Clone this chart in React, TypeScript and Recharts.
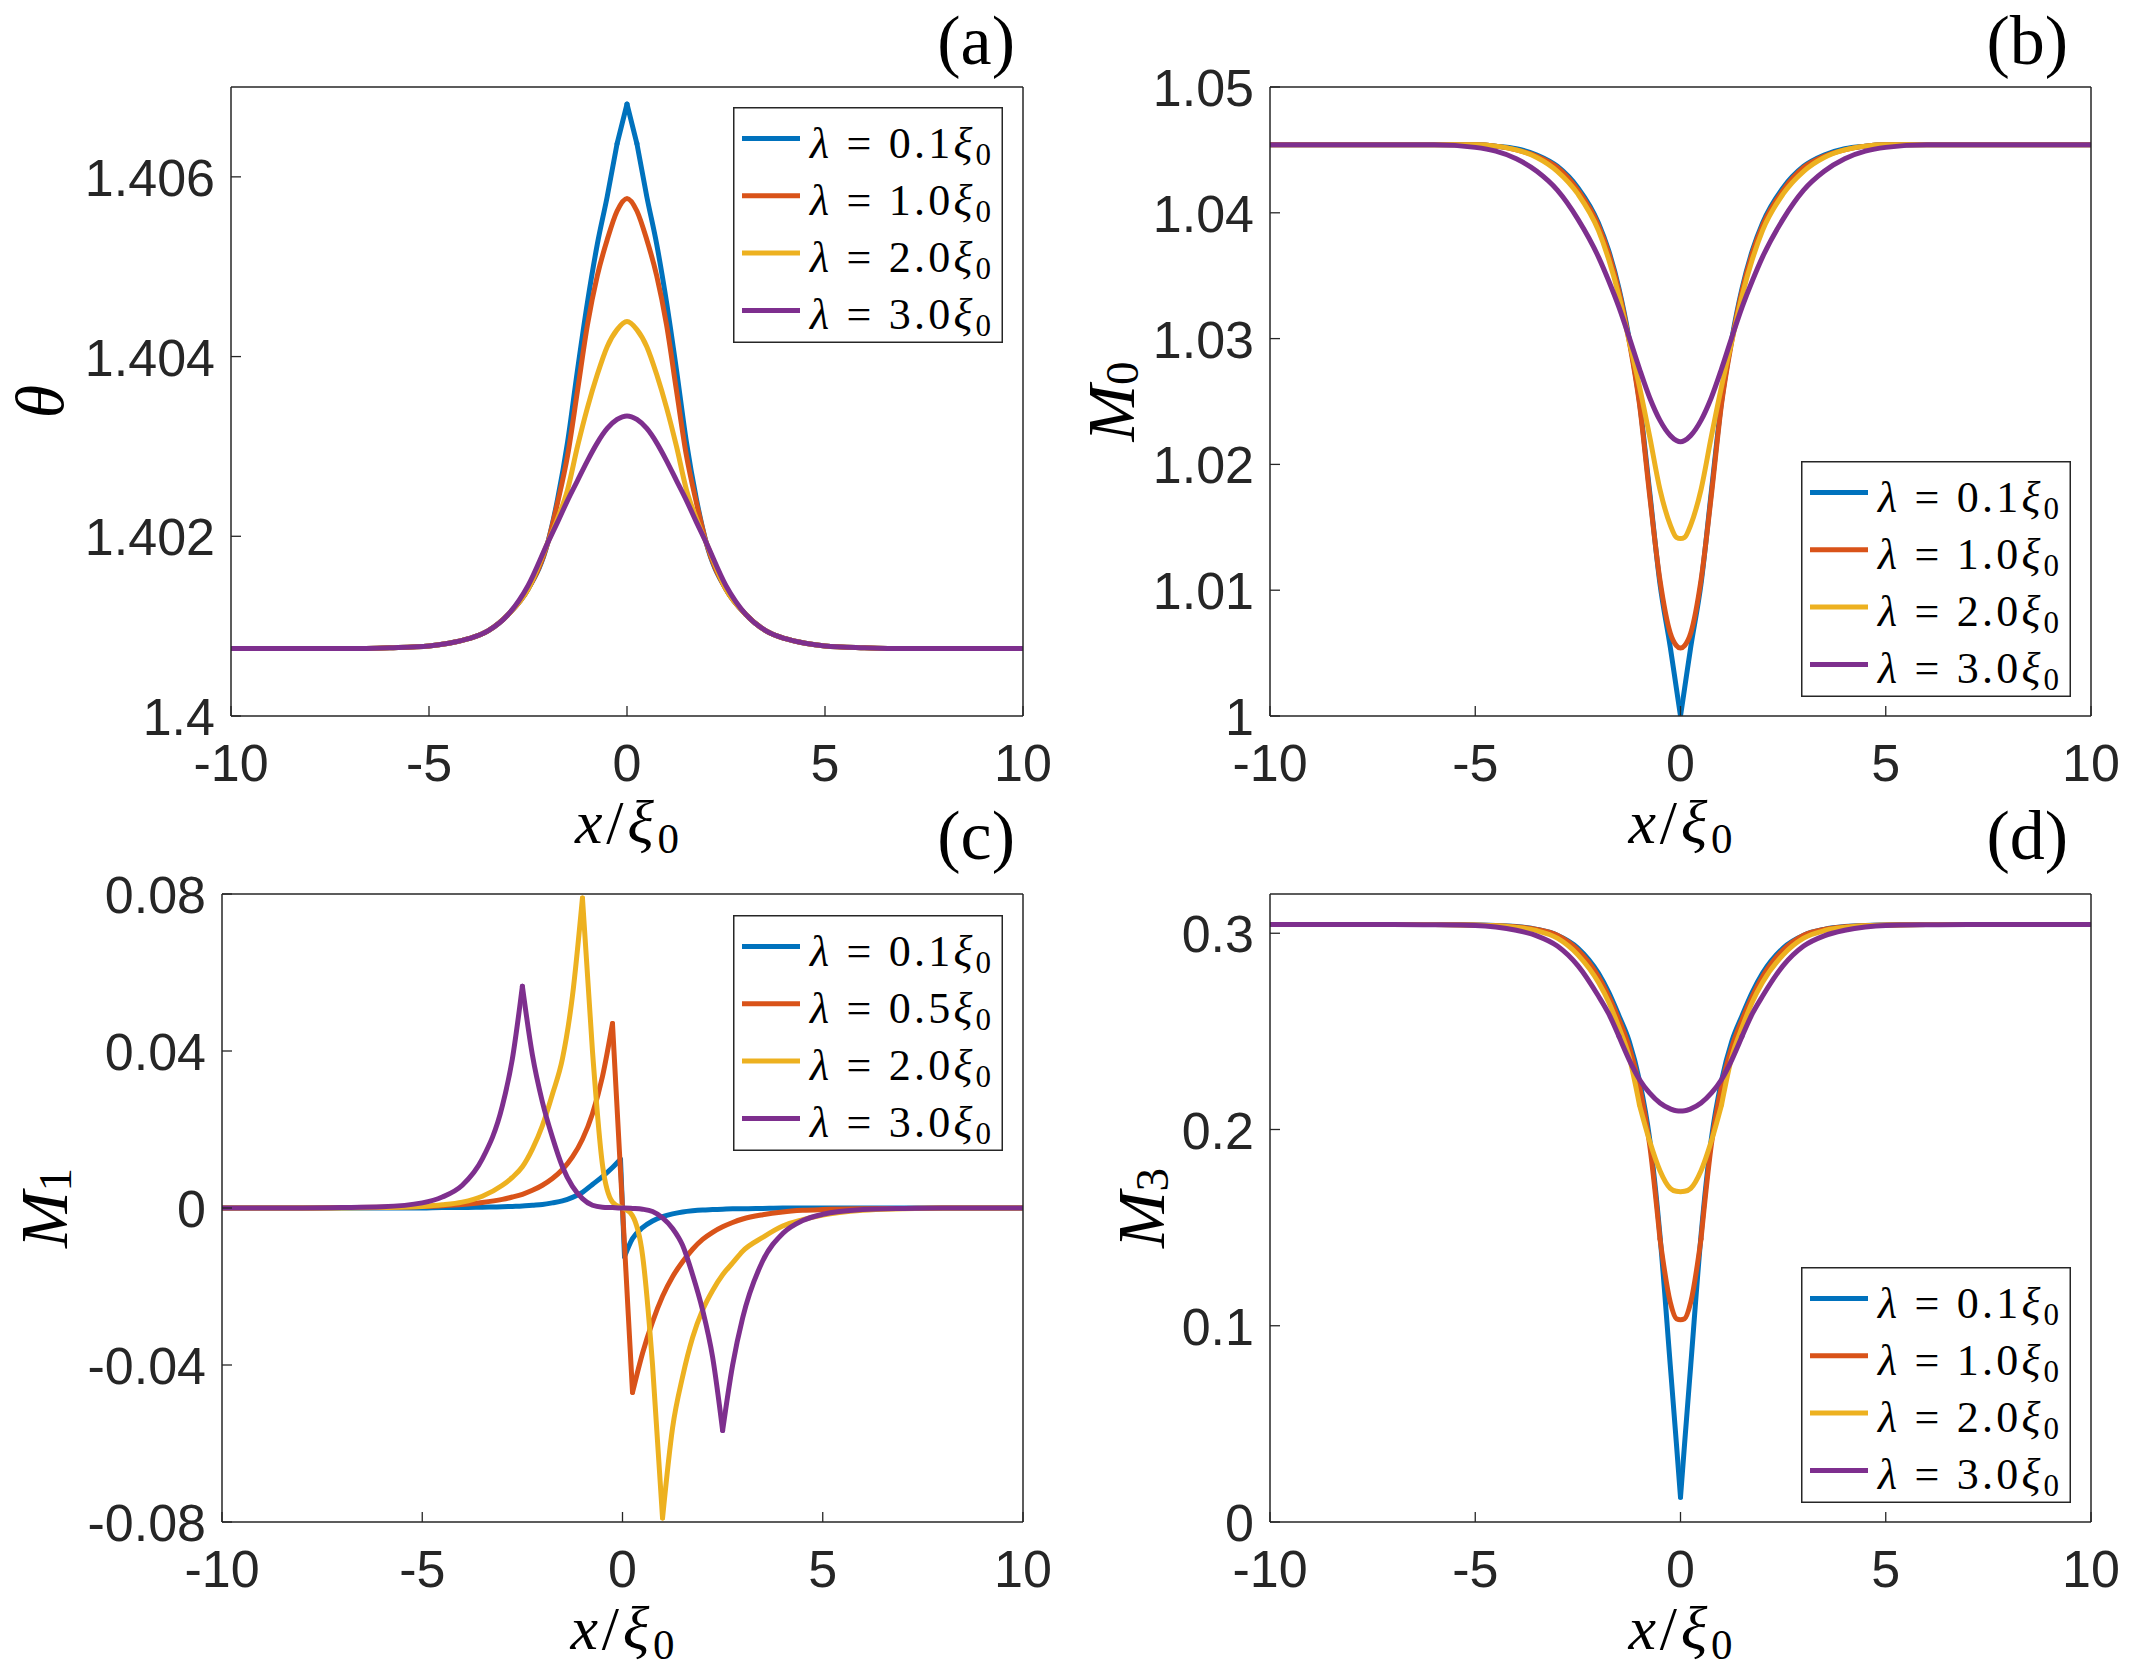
import React from 'react';
import { LineChart, Line, XAxis, YAxis, Label } from 'recharts';

// MATLAB default line colours
const COLORS = ['#0072BD', '#D95319', '#EDB120', '#7E2F8E'];
const SANS = '"Liberation Sans", Arial, Helvetica, sans-serif';
const SERIF = '"Liberation Serif", "Times New Roman", serif';
const INK = '#262626';

// shared x axis
const xTicks = [-10, -5, 0, 5, 10];
const xTickLabels = ['-10', '-5', '0', '5', '10'];

// legend lambda values (in units of xi_0)
const lambdasABD = ['0.1', '1.0', '2.0', '3.0'];
const lambdasC = ['0.1', '0.5', '2.0', '3.0'];

// ---------- (a) theta ----------
const xA = [-10, -8, -7, -6, -5, -4.5, -4, -3.5, -3, -2.5, -2, -1.75, -1.5, -1.25, -1, -0.75, -0.5, -0.25, 0, 0.25, 0.5, 0.75, 1, 1.25, 1.5, 1.75, 2, 2.5, 3, 3.5, 4, 4.5, 5, 6, 7, 8, 10];
const thetaL01 = [1.40075, 1.40075, 1.40075, 1.40076, 1.40078, 1.40081, 1.40086, 1.40095, 1.40113, 1.40141, 1.40193, 1.40242, 1.40305, 1.40385, 1.4046, 1.40525, 1.40578, 1.40637, 1.40681, 1.40637, 1.40578, 1.40525, 1.4046, 1.40385, 1.40305, 1.40242, 1.40193, 1.40141, 1.40113, 1.40095, 1.40086, 1.40081, 1.40078, 1.40076, 1.40075, 1.40075, 1.40075];
const thetaL10 = [1.40075, 1.40075, 1.40075, 1.40076, 1.40078, 1.40081, 1.40086, 1.40095, 1.40113, 1.40141, 1.40193, 1.40238, 1.4029, 1.40362, 1.40435, 1.4049, 1.4053, 1.40562, 1.40576, 1.40562, 1.4053, 1.4049, 1.40435, 1.40362, 1.4029, 1.40238, 1.40193, 1.40141, 1.40113, 1.40095, 1.40086, 1.40081, 1.40078, 1.40076, 1.40075, 1.40075, 1.40075];
const thetaL20 = [1.40075, 1.40075, 1.40075, 1.40076, 1.40078, 1.40081, 1.40086, 1.40095, 1.40113, 1.40141, 1.40193, 1.4022, 1.40252, 1.403, 1.40343, 1.4038, 1.40411, 1.4043, 1.40439, 1.4043, 1.40411, 1.4038, 1.40343, 1.403, 1.40252, 1.4022, 1.40193, 1.40141, 1.40113, 1.40095, 1.40086, 1.40081, 1.40078, 1.40076, 1.40075, 1.40075, 1.40075];
const thetaL30 = [1.40075, 1.40075, 1.40075, 1.40076, 1.40078, 1.40081, 1.40086, 1.40095, 1.40113, 1.40145, 1.40193, 1.40216, 1.4024, 1.40262, 1.40284, 1.40304, 1.4032, 1.4033, 1.40334, 1.4033, 1.4032, 1.40304, 1.40284, 1.40262, 1.4024, 1.40216, 1.40193, 1.40145, 1.40113, 1.40095, 1.40086, 1.40081, 1.40078, 1.40076, 1.40075, 1.40075, 1.40075];
const thetaTicks = [1.4, 1.402, 1.404, 1.406];
const thetaTickLabels = ['1.4', '1.402', '1.404', '1.406'];
// x positions where a curve has a corner (the curve is drawn smooth between them)
const cornersA = [[-0.25, 0, 0.25], [], [], []];

// ---------- (b) M0 and (d) M3 share the x grid ----------
const xBD = [-10, -8, -7, -6, -5, -4.5, -4, -3.5, -3, -2.5, -2, -1.75, -1.5, -1.25, -1, -0.75, -0.5, -0.25, -0.1, 0, 0.1, 0.25, 0.5, 0.75, 1, 1.25, 1.5, 1.75, 2, 2.5, 3, 3.5, 4, 4.5, 5, 6, 7, 8, 10];
const m0L01 = [1.0454, 1.0454, 1.0454, 1.0454, 1.0454, 1.0453, 1.0451, 1.0446, 1.0437, 1.042, 1.0392, 1.037, 1.034, 1.03, 1.025, 1.0178, 1.0105, 1.0055, 1.0022, 1.0, 1.0022, 1.0055, 1.0105, 1.0178, 1.025, 1.03, 1.034, 1.037, 1.0392, 1.042, 1.0437, 1.0446, 1.0451, 1.0453, 1.0454, 1.0454, 1.0454, 1.0454, 1.0454];
const m0L10 = [1.0454, 1.0454, 1.0454, 1.0454, 1.0454, 1.0453, 1.045, 1.0445, 1.0436, 1.0418, 1.039, 1.0368, 1.0338, 1.0298, 1.0248, 1.0175, 1.0108, 1.0066, 1.0056, 1.0054, 1.0056, 1.0066, 1.0108, 1.0175, 1.0248, 1.0298, 1.0338, 1.0368, 1.039, 1.0418, 1.0436, 1.0445, 1.045, 1.0453, 1.0454, 1.0454, 1.0454, 1.0454, 1.0454];
const m0L20 = [1.0454, 1.0454, 1.0454, 1.0454, 1.0454, 1.0453, 1.045, 1.0444, 1.0433, 1.0415, 1.0386, 1.0363, 1.0334, 1.0298, 1.0262, 1.0222, 1.018, 1.0152, 1.0142, 1.0141, 1.0142, 1.0152, 1.018, 1.0222, 1.0262, 1.0298, 1.0334, 1.0363, 1.0386, 1.0415, 1.0433, 1.0444, 1.045, 1.0453, 1.0454, 1.0454, 1.0454, 1.0454, 1.0454];
const m0L30 = [1.0454, 1.0454, 1.0454, 1.0454, 1.0452, 1.0449, 1.0443, 1.0433, 1.0418, 1.0395, 1.0365, 1.0346, 1.0325, 1.0301, 1.0276, 1.0253, 1.0235, 1.0223, 1.0219, 1.0218, 1.0219, 1.0223, 1.0235, 1.0253, 1.0276, 1.0301, 1.0325, 1.0346, 1.0365, 1.0395, 1.0418, 1.0433, 1.0443, 1.0449, 1.0452, 1.0454, 1.0454, 1.0454, 1.0454];
const m0Ticks = [1, 1.01, 1.02, 1.03, 1.04, 1.05];
const m0TickLabels = ['1', '1.01', '1.02', '1.03', '1.04', '1.05'];
const cornersB = [[0], [], [], []];

const m3L01 = [0.3044, 0.3044, 0.3044, 0.3044, 0.3042, 0.304, 0.3034, 0.302, 0.299, 0.2925, 0.2797, 0.27, 0.258, 0.245, 0.225, 0.195, 0.146, 0.08, 0.04, 0.0126, 0.04, 0.08, 0.146, 0.195, 0.225, 0.245, 0.258, 0.27, 0.2797, 0.2925, 0.299, 0.302, 0.3034, 0.304, 0.3042, 0.3044, 0.3044, 0.3044, 0.3044];
const m3L10 = [0.3044, 0.3044, 0.3044, 0.3044, 0.3042, 0.3039, 0.3033, 0.302, 0.299, 0.2915, 0.278, 0.268, 0.256, 0.242, 0.222, 0.192, 0.1442, 0.112, 0.1036, 0.1031, 0.1036, 0.112, 0.1442, 0.192, 0.222, 0.242, 0.256, 0.268, 0.278, 0.2915, 0.299, 0.302, 0.3033, 0.3039, 0.3042, 0.3044, 0.3044, 0.3044, 0.3044];
const m3L20 = [0.3044, 0.3044, 0.3044, 0.3044, 0.3041, 0.3038, 0.303, 0.3013, 0.2975, 0.289, 0.275, 0.265, 0.252, 0.237, 0.2126, 0.194, 0.179, 0.17, 0.1685, 0.1683, 0.1685, 0.17, 0.179, 0.194, 0.2126, 0.237, 0.252, 0.265, 0.275, 0.289, 0.2975, 0.3013, 0.303, 0.3038, 0.3041, 0.3044, 0.3044, 0.3044, 0.3044];
const m3L30 = [0.3044, 0.3044, 0.3044, 0.3043, 0.304, 0.3032, 0.3015, 0.2987, 0.2935, 0.2835, 0.268, 0.259, 0.2475, 0.2355, 0.2255, 0.2185, 0.2135, 0.2105, 0.2095, 0.2094, 0.2095, 0.2105, 0.2135, 0.2185, 0.2255, 0.2355, 0.2475, 0.259, 0.268, 0.2835, 0.2935, 0.2987, 0.3015, 0.3032, 0.304, 0.3043, 0.3044, 0.3044, 0.3044];
const m3Ticks = [0, 0.1, 0.2, 0.3];
const m3TickLabels = ['0', '0.1', '0.2', '0.3'];
const cornersD = [[0], [-0.5, 0.5], [-1, 1], [-1.5, 1.5]];

// ---------- (c) M1 ----------
const xC = [-10, -8, -7, -6, -5, -4.5, -4, -3.5, -3, -2.75, -2.5, -2.25, -2, -1.75, -1.5, -1.25, -1, -0.75, -0.5, -0.25, -0.05, 0, 0.05, 0.25, 0.5, 0.75, 1, 1.25, 1.5, 1.75, 2, 2.25, 2.5, 2.75, 3, 3.5, 4, 4.5, 5, 6, 7, 8, 10];
const m1L01 = [0, 0, 0, 0, 0, 0.0001, 0.0001, 0.0002, 0.0003, 0.0004, 0.0005, 0.0007, 0.0009, 0.0013, 0.0018, 0.0027, 0.004, 0.006, 0.008, 0.0103, 0.0124, 0, -0.0124, -0.0078, -0.005, -0.0033, -0.0022, -0.0015, -0.001, -0.0007, -0.0005, -0.0004, -0.0003, -0.0002, -0.0002, -0.0001, 0, 0, 0, 0, 0, 0, 0];
const m1L05 = [0, 0, 0.0001, 0.0002, 0.0004, 0.0006, 0.0009, 0.0014, 0.0022, 0.0028, 0.0035, 0.0045, 0.0058, 0.0075, 0.0098, 0.013, 0.0175, 0.024, 0.0335, 0.047, 0.0094, 0, -0.0094, -0.047, -0.037, -0.029, -0.0225, -0.0175, -0.0137, -0.0105, -0.008, -0.0062, -0.0048, -0.0037, -0.0028, -0.0017, -0.001, -0.0006, -0.0004, -0.0002, -0.0001, 0, 0];
const m1L20 = [0, 0, 0, 0.0001, 0.0004, 0.0008, 0.0015, 0.003, 0.0058, 0.0078, 0.0105, 0.015, 0.021, 0.029, 0.038, 0.054, 0.079, 0.04, 0.011, 0.0015, 0.0002, 0, -0.0002, -0.002, -0.012, -0.04, -0.079, -0.056, -0.043, -0.033, -0.026, -0.021, -0.017, -0.014, -0.011, -0.0075, -0.0046, -0.003, -0.0018, -0.0006, -0.0002, 0, 0];
const m1L30 = [0, 0, 0.0001, 0.0003, 0.0013, 0.0028, 0.0058, 0.0125, 0.026, 0.038, 0.0565, 0.039, 0.027, 0.018, 0.0105, 0.0055, 0.0024, 0.0007, 0.0002, 0.0001, 0, 0, 0, -0.0001, -0.0003, -0.0009, -0.0025, -0.0052, -0.0095, -0.017, -0.026, -0.038, -0.0567, -0.04, -0.028, -0.0135, -0.0065, -0.0032, -0.0016, -0.0004, -0.0001, 0, 0];
const m1Ticks = [-0.08, -0.04, 0, 0.04, 0.08];
const m1TickLabels = ['-0.08', '-0.04', '0', '0.04', '0.08'];
const cornersC = [[-0.05, 0.05], [-0.25, 0.25], [-1, 1], [-2.5, 2.5]];

// Each series is split at its corners into pieces; every piece is drawn as a
// smooth monotone curve, so the corners stay sharp while the rest is smooth.
type Row = Record<string, number | null>;
type PanelData = { rows: Row[]; keys: { key: string; color: string }[] };

function buildPanel(xs: number[], series: number[][], corners: number[][]): PanelData {
  const keys: { key: string; color: string }[] = [];
  const bounds = series.map((_, i) => {
    const c = corners[i];
    const edges = [-Infinity, ...c, Infinity];
    const segs: [number, number][] = [];
    for (let k = 0; k < edges.length - 1; k++) {
      segs.push([edges[k], edges[k + 1]]);
      keys.push({ key: `s${i}_${k}`, color: COLORS[i] });
    }
    return segs;
  });
  const rows = xs.map((x, j) => {
    const r: Row = { x };
    series.forEach((vals, i) => {
      bounds[i].forEach(([lo, hi], k) => {
        r[`s${i}_${k}`] = x >= lo - 1e-9 && x <= hi + 1e-9 ? vals[j] : null;
      });
    });
    return r;
  });
  return { rows, keys };
}

const panelA = buildPanel(xA, [thetaL01, thetaL10, thetaL20, thetaL30], cornersA);
const panelB = buildPanel(xBD, [m0L01, m0L10, m0L20, m0L30], cornersB);
const panelC = buildPanel(xC, [m1L01, m1L05, m1L20, m1L30], cornersC);
const panelD = buildPanel(xBD, [m3L01, m3L10, m3L20, m3L30], cornersD);

const labelFor = (values: number[], labels: string[], v: number) => {
  const i = values.findIndex((t) => Math.abs(t - v) < 1e-9);
  return i >= 0 ? labels[i] : String(v);
};

const makeXTick = (values: number[], labels: string[]) => (props: any) => (
  <text x={props.x} y={props.y} dy={36} textAnchor="middle" fontFamily={SANS} fontSize={52} fill={INK}>
    {labelFor(values, labels, props.payload.value)}
  </text>
);

const makeYTick = (values: number[], labels: string[]) => (props: any) => (
  <text x={props.x} y={props.y} dy={19} textAnchor="end" fontFamily={SANS} fontSize={52} fill={INK}>
    {labelFor(values, labels, props.payload.value)}
  </text>
);

const XTitle = (props: any) => {
  const vb = props.viewBox;
  return (
    <text
      x={vb.x + vb.width / 2}
      y={vb.y + 127}
      textAnchor="middle"
      fontFamily={SERIF}
      fontSize={62}
      fill="#000"
      textLength={104}
      lengthAdjust="spacing"
    >
      <tspan fontStyle="italic">x</tspan>
      <tspan>/</tspan>
      <tspan fontStyle="italic">ξ</tspan>
      <tspan fontSize={43} dy={10}>0</tspan>
    </text>
  );
};

const makeYTitle = (sym: string, sub: string | null, cx: number) => (props: any) => {
  const vb = props.viewBox;
  const x = vb.x + cx;
  const y = vb.y + vb.height / 2;
  return (
    <text
      transform={`rotate(-90 ${x} ${y})`}
      x={x}
      y={y}
      textAnchor="middle"
      dominantBaseline="central"
      fontFamily={SERIF}
      fontSize={68}
      fill="#000"
    >
      <tspan fontStyle="italic">{sym}</tspan>
      {sub ? <tspan fontSize={47} dy={11}>{sub}</tspan> : null}
    </text>
  );
};

type PanelProps = {
  left: number;
  top: number;
  width: number;
  height: number;
  margin: { top: number; right: number; bottom: number; left: number };
  yAxisWidth: number;
  data: PanelData;
  yDomain: [number, number];
  yTicks: number[];
  yTickLabels: string[];
  yTitle: (props: any) => React.ReactElement;
};

const axisLine = { stroke: INK, strokeWidth: 1.5 };
const tickLine = { stroke: INK, strokeWidth: 1.3 };

function Panel(p: PanelProps) {
  return (
    <div style={{ position: 'absolute', left: p.left, top: p.top }}>
      <LineChart width={p.width} height={p.height} data={p.data.rows} margin={p.margin}>
        <XAxis
          dataKey="x"
          type="number"
          domain={[-10, 10]}
          ticks={xTicks}
          interval={0}
          allowDataOverflow
          height={140}
          axisLine={axisLine}
          tickLine={tickLine}
          tickSize={-10}
          tickMargin={39}
          tick={makeXTick(xTicks, xTickLabels)}
        >
          <Label content={XTitle} />
        </XAxis>
        <XAxis
          xAxisId="top"
          orientation="top"
          dataKey="x"
          type="number"
          domain={[-10, 10]}
          ticks={xTicks}
          interval={0}
          allowDataOverflow
          height={1}
          axisLine={axisLine}
          tickLine={tickLine}
          tickSize={-10}
          tick={false}
        />
        <YAxis
          type="number"
          domain={p.yDomain}
          ticks={p.yTicks}
          interval={0}
          allowDataOverflow
          width={p.yAxisWidth}
          axisLine={axisLine}
          tickLine={tickLine}
          tickSize={-10}
          tickMargin={26}
          tick={makeYTick(p.yTicks, p.yTickLabels)}
        >
          <Label content={p.yTitle} />
        </YAxis>
        <YAxis
          yAxisId="right"
          orientation="right"
          type="number"
          domain={p.yDomain}
          ticks={p.yTicks}
          interval={0}
          allowDataOverflow
          width={1}
          axisLine={axisLine}
          tickLine={tickLine}
          tickSize={-10}
          tick={false}
        />
        {p.data.keys.map((k) => (
          <Line
            key={k.key}
            dataKey={k.key}
            type="monotone"
            stroke={k.color}
            strokeWidth={5}
            strokeLinejoin="round"
            strokeLinecap="round"
            dot={false}
            activeDot={false}
            connectNulls={false}
            isAnimationActive={false}
          />
        ))}
      </LineChart>
    </div>
  );
}

function LegendBox({ left, top, lambdas }: { left: number; top: number; lambdas: string[] }) {
  return (
    <svg style={{ position: 'absolute', left, top }} width={270} height={236}>
      <rect x={0.75} y={0.75} width={268.5} height={234.5} fill="#fff" stroke={INK} strokeWidth={1.5} />
      {lambdas.map((lam, i) => {
        const cy = 31.5 + i * 57.3;
        return (
          <g key={i}>
            <line x1={9} x2={67} y1={cy} y2={cy} stroke={COLORS[i]} strokeWidth={5} />
            <text x={77} y={cy + 19} fontFamily={SERIF} fontSize={44} fill="#000" textLength={181} lengthAdjust="spacing">
              <tspan fontStyle="italic">λ</tspan>
              <tspan>{' = ' + lam}</tspan>
              <tspan fontStyle="italic">ξ</tspan>
              <tspan fontSize={31} dy={7}>0</tspan>
            </text>
          </g>
        );
      })}
    </svg>
  );
}

const tags = [
  { label: '(a)', x: 1015, y: 64 },
  { label: '(b)', x: 2068, y: 64 },
  { label: '(c)', x: 1015, y: 859 },
  { label: '(d)', x: 2068, y: 859 },
];

export default function App() {
  return (
    <div style={{ position: 'absolute', left: 0, top: 0, width: 2134, height: 1667, background: '#fff', overflow: 'hidden' }}>
      <Panel
        left={0}
        top={0}
        width={1067}
        height={880}
        margin={{ top: 86, right: 43, bottom: 24, left: 0 }}
        yAxisWidth={231}
        data={panelA}
        yDomain={[1.4, 1.407]}
        yTicks={thetaTicks}
        yTickLabels={thetaTickLabels}
        yTitle={makeYTitle('θ', null, 40)}
      />
      <Panel
        left={1067}
        top={0}
        width={1067}
        height={880}
        margin={{ top: 86, right: 42, bottom: 24, left: 0 }}
        yAxisWidth={203}
        data={panelB}
        yDomain={[1, 1.05]}
        yTicks={m0Ticks}
        yTickLabels={m0TickLabels}
        yTitle={makeYTitle('M', '0', 44)}
      />
      <Panel
        left={0}
        top={800}
        width={1067}
        height={867}
        margin={{ top: 93, right: 43, bottom: 5, left: 0 }}
        yAxisWidth={222}
        data={panelC}
        yDomain={[-0.08, 0.08]}
        yTicks={m1Ticks}
        yTickLabels={m1TickLabels}
        yTitle={makeYTitle('M', '1', 44)}
      />
      <Panel
        left={1067}
        top={800}
        width={1067}
        height={867}
        margin={{ top: 93, right: 42, bottom: 5, left: 0 }}
        yAxisWidth={203}
        data={panelD}
        yDomain={[0, 0.32]}
        yTicks={m3Ticks}
        yTickLabels={m3TickLabels}
        yTitle={makeYTitle('M', '3', 74)}
      />
      <LegendBox left={733} top={107} lambdas={lambdasABD} />
      <LegendBox left={1801} top={461} lambdas={lambdasABD} />
      <LegendBox left={733} top={915} lambdas={lambdasC} />
      <LegendBox left={1801} top={1267} lambdas={lambdasABD} />
      <svg style={{ position: 'absolute', left: 0, top: 0, pointerEvents: 'none' }} width={2134} height={1667}>
        {tags.map((t) => (
          <text key={t.label} x={t.x} y={t.y} textAnchor="end" fontFamily={SERIF} fontSize={70} fill="#000">
            {t.label}
          </text>
        ))}
      </svg>
    </div>
  );
}
